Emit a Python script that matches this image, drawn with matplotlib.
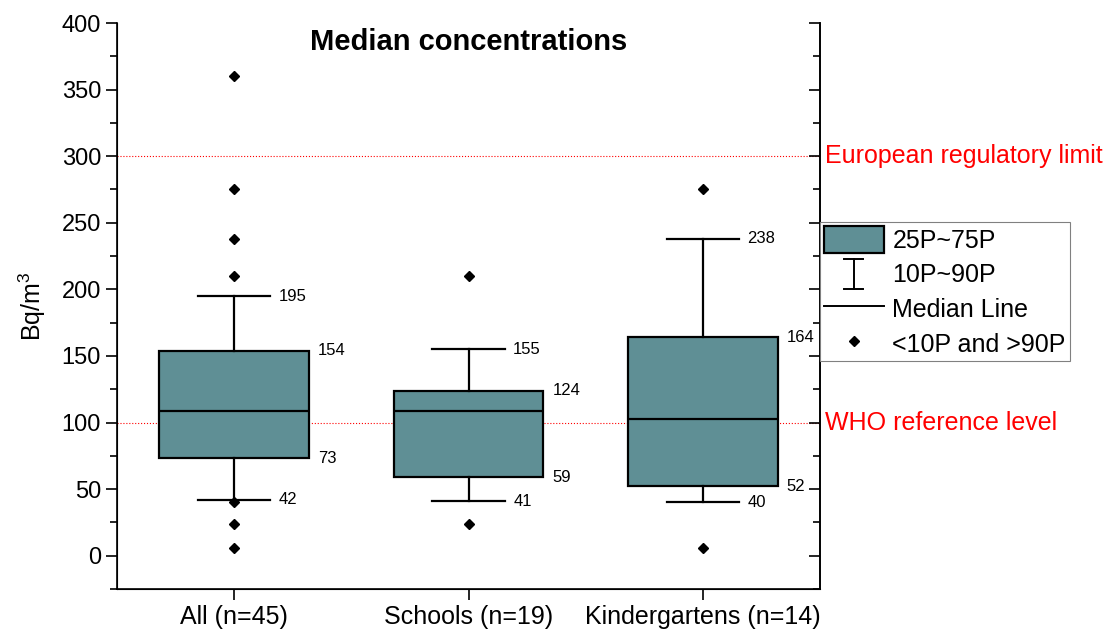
import matplotlib
matplotlib.use("Agg")
import matplotlib.pyplot as plt
from matplotlib.lines import Line2D
from matplotlib.patches import Patch
from matplotlib.legend_handler import HandlerBase
from matplotlib.ticker import MultipleLocator
import matplotlib.transforms as mtransforms

plt.rcParams['font.family'] = ['Liberation Sans', 'DejaVu Sans']

# data
groups = ['All (n=45)', 'Schools (n=19)', 'Kindergartens (n=14)']
p10 = [42, 41, 40]
p25 = [73, 59, 52]
median = [109, 109, 103]
p75 = [154, 124, 164]
p90 = [195, 155, 238]
outliers = [[360, 275, 238, 210, 40, 24, 6],
            [210, 24],
            [275, 6]]
ref_levels = [300, 100]
ref_labels = ['European regulatory limit', 'WHO reference level']

box_color = '#5f8f95'
positions = [1, 2, 3]


class IBeamHandler(HandlerBase):
    """Draws the 10P~90P whisker symbol in the legend."""
    def create_artists(self, legend, orig_handle, xdescent, ydescent,
                       width, height, fontsize, trans):
        cx = width / 2 - xdescent
        y0 = -ydescent - 0.05 * height
        y1 = -ydescent + 1.05 * height
        hw = 0.16 * width
        kw = dict(color='black', lw=1.4, transform=trans)
        return [Line2D([cx, cx], [y0, y1], **kw),
                Line2D([cx - hw, cx + hw], [y0, y0], **kw),
                Line2D([cx - hw, cx + hw], [y1, y1], **kw)]


class IBeam:
    pass


fig = plt.figure(figsize=(11.09, 6.32), dpi=100)
ax = fig.add_axes([117 / 1109, 1 - 589 / 632, 703 / 1109, 566 / 632])

stats = []
for i in range(len(groups)):
    stats.append(dict(med=median[i], q1=p25[i], q3=p75[i],
                      whislo=p10[i], whishi=p90[i], fliers=outliers[i]))

ax.bxp(stats, positions=positions, widths=0.64, capwidths=0.31,
       patch_artist=True, showfliers=True,
       boxprops=dict(facecolor=box_color, edgecolor='black', linewidth=1.6),
       medianprops=dict(color='black', linewidth=1.6),
       whiskerprops=dict(color='black', linewidth=1.6),
       capprops=dict(color='black', linewidth=1.6),
       flierprops=dict(marker='D', markerfacecolor='black',
                       markeredgecolor='black', markersize=5.5, linestyle='none'),
       zorder=3)

# reference lines
trans = mtransforms.blended_transform_factory(ax.transAxes, ax.transData)
for lvl, lab in zip(ref_levels, ref_labels):
    ax.axhline(lvl, color='red', linestyle=':', linewidth=0.8, zorder=1)
    ax.text(1.007, lvl, lab, transform=trans, color='red', fontsize=18,
            ha='left', va='center', clip_on=False)

# value labels
for i, x in enumerate(positions):
    for v in (p90[i], p10[i]):
        ax.annotate(str(v), (x + 0.155, v), xytext=(6, 0),
                    textcoords='offset points', fontsize=12, va='center')
    for v in (p75[i], p25[i]):
        ax.annotate(str(v), (x + 0.32, v), xytext=(6.5, 0),
                    textcoords='offset points', fontsize=12, va='center')

ax.text(0.5, 0.966, 'Median concentrations', transform=ax.transAxes,
        ha='center', va='center', fontsize=21, fontweight='bold')

ax.set_xlim(0.5, 3.5)
ax.set_ylim(-25, 400)
ax.set_xticks(positions)
ax.set_xticklabels(groups)
ax.yaxis.set_minor_locator(MultipleLocator(25))
ax.set_yticks(range(0, 401, 50))
ax.tick_params(axis='both', which='major', direction='out', length=8,
               width=1.2, labelsize=17)
ax.tick_params(axis='x', labelsize=18)
ax.tick_params(axis='y', which='minor', direction='out', length=5, width=1.2)
ax.set_ylabel('Bq/m$^\\mathregular{3}$', fontsize=18, labelpad=10)

ax.spines['top'].set_visible(False)
for s in ('left', 'bottom', 'right'):
    ax.spines[s].set_linewidth(1.2)

# right axis: inward ticks without labels
ax2 = ax.twinx()
ax2.set_ylim(ax.get_ylim())
ax2.yaxis.set_minor_locator(MultipleLocator(25))
ax2.set_yticks(range(0, 401, 50))
ax2.set_yticklabels([])
ax2.tick_params(axis='y', which='major', direction='in', length=8, width=1.2)
ax2.tick_params(axis='y', which='minor', direction='in', length=5, width=1.2)
ax2.spines['top'].set_visible(False)
ax2.spines['right'].set_linewidth(1.2)

handles = [Patch(facecolor=box_color, edgecolor='black', linewidth=1.6),
           IBeam(),
           Line2D([], [], color='black', linewidth=1.4),
           Line2D([], [], marker='D', color='black', linestyle='none',
                  markersize=5.5)]
labels = ['25P~75P', '10P~90P', 'Median Line', '<10P and >90P']
leg = fig.legend(handles, labels, loc='upper left',
                 bbox_to_anchor=(820 / 1109, 1 - 222 / 632),
                 bbox_transform=fig.transFigure, handler_map={IBeam: IBeamHandler()},
                 fontsize=18, frameon=True, fancybox=False, framealpha=1,
                 edgecolor='#808080', borderpad=0.15, borderaxespad=0,
                 handlelength=2.4, handleheight=1.3, handletextpad=0.35,
                 labelspacing=0.3)
leg.get_frame().set_linewidth(0.8)

fig.savefig('out.png', dpi=100)
